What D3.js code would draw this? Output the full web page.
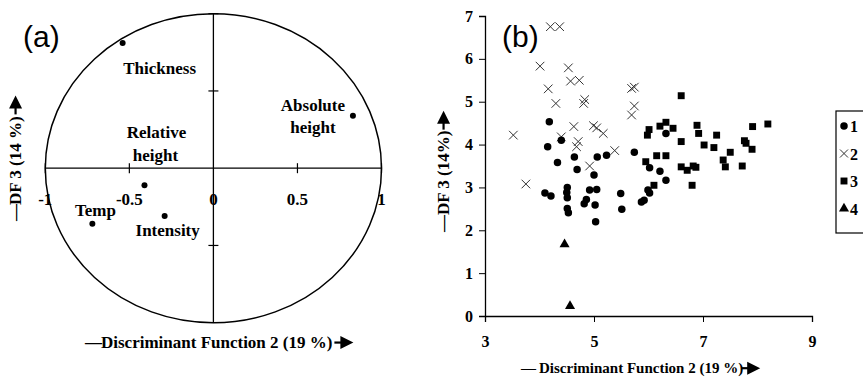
<!DOCTYPE html>
<html>
<head>
<meta charset="utf-8">
<script src="https://cdn.jsdelivr.net/npm/d3@7"></script>
<style>
  body { margin: 0; background: #fff; }
  svg { display: block; }
</style>
</head>
<body>
<script>
const WIDTH = 863
const HEIGHT = 381

// Panel (a): structure coefficients
const varNames = ["Thickness", "Absolute height", "Relative height", "Intensity", "Temp"]
const varDF2 = [-0.54, 0.83, -0.41, -0.29, -0.72]
const varDF3 = [0.81, 0.34, -0.11, -0.31, -0.36]
const circleTicks = [-1, -0.5, 0, 0.5, 1]

// Panel (b): group scores (DF2, DF3)
const g1x = [4.18, 4.40, 4.15, 4.33, 4.64, 4.69, 5.06, 5.23, 5.00, 4.10, 4.21, 4.51, 4.50, 4.51, 4.51, 4.53, 4.92, 5.05, 4.86, 4.82, 5.02, 5.03, 5.49, 5.51, 5.87, 5.92, 6.02, 5.99, 6.02, 6.21, 6.32, 6.32, 5.74]
const g1y = [4.53, 4.10, 3.95, 3.58, 3.71, 3.42, 3.71, 3.75, 3.29, 2.87, 2.80, 3.00, 2.88, 2.76, 2.51, 2.41, 2.94, 2.95, 2.72, 2.62, 2.59, 2.20, 2.86, 2.49, 2.66, 2.70, 2.87, 2.94, 3.46, 3.38, 3.17, 4.26, 3.82]
const g2x = [4.20, 4.37, 4.01, 4.53, 4.57, 4.73, 4.16, 4.30, 4.83, 4.81, 5.69, 5.74, 5.74, 5.69, 3.52, 4.63, 4.99, 5.05, 5.17, 4.40, 4.71, 4.68, 5.38, 4.92, 3.75]
const g2y = [6.75, 6.75, 5.83, 5.79, 5.48, 5.50, 5.30, 4.96, 5.05, 4.96, 5.31, 5.34, 4.90, 4.69, 4.22, 4.42, 4.44, 4.39, 4.26, 4.18, 4.07, 3.95, 3.86, 3.50, 3.08]
const g3x = [6.60, 6.01, 5.98, 6.21, 6.32, 6.45, 6.89, 6.92, 7.25, 7.91, 8.19, 6.60, 7.02, 7.20, 7.50, 7.76, 7.79, 7.90, 5.95, 6.15, 6.32, 6.60, 6.71, 6.82, 6.87, 7.37, 7.41, 7.72, 6.80, 6.10]
const g3y = [5.14, 4.35, 4.22, 4.43, 4.52, 4.38, 4.45, 4.26, 4.22, 4.42, 4.48, 4.07, 3.99, 3.93, 3.82, 4.09, 4.03, 3.89, 3.60, 3.74, 3.74, 3.48, 3.40, 3.50, 3.47, 3.64, 3.48, 3.50, 3.05, 3.05]
const g4x = [4.46, 4.56]
const g4y = [1.67, 0.23]
const groupNames = ["1", "2", "3", "4"]
const xTicksB = [3, 5, 7, 9]
const yTicksB = [0, 1, 2, 3, 4, 5, 6, 7]

const SERIF = "'Liberation Serif', 'Times New Roman', serif"
const SANS = "'Liberation Sans', Arial, sans-serif"

const svg = d3.select("body").append("svg")
  .attr("width", WIDTH)
  .attr("height", HEIGHT)
  .attr("viewBox", [0, 0, WIDTH, HEIGHT])
  .attr("font-family", SERIF)
  .attr("font-weight", "bold")

// label like "—Text ➜" with a drawn arrow at the end
const arrowLabel = (g, text, size, gap) => {
  const t = g.append("text")
    .attr("font-size", size)
  t.append("tspan").text("\u2014")
  t.append("tspan").attr("dx", gap).text(text)
  const len = t.node().getComputedTextLength()
  const a = len + 1
  const my = -size * 0.32
  g.append("line")
    .attr("x1", a).attr("x2", a + 8)
    .attr("y1", my).attr("y2", my)
    .attr("stroke", "#000").attr("stroke-width", 2.2)
  g.append("path")
    .attr("d", `M${a + 6},${my - 6.5}L${a + 19},${my}L${a + 6},${my + 6.5}Z`)
    .attr("fill", "#000")
}

// ---------- Panel (a) ----------
const xA = d3.scaleLinear([-1, 1], [45.3, 381.5])
const yA = d3.scaleLinear([-1, 1], [322.7, 13.7])

const pa = svg.append("g")

pa.append("ellipse")
  .attr("cx", xA(0)).attr("cy", yA(0))
  .attr("rx", xA(1) - xA(0)).attr("ry", yA(0) - yA(1))
  .attr("fill", "none").attr("stroke", "#000").attr("stroke-width", 1.5)

pa.append("line")
  .attr("x1", xA(-1)).attr("x2", xA(1)).attr("y1", yA(0)).attr("y2", yA(0))
  .attr("stroke", "#000").attr("stroke-width", 1.3)
pa.append("line")
  .attr("x1", xA(0)).attr("x2", xA(0)).attr("y1", yA(1)).attr("y2", yA(-1))
  .attr("stroke", "#000").attr("stroke-width", 1.3)

// ticks on horizontal axis
pa.append("g").selectAll("line")
  .data(circleTicks.filter(d => d !== 0))
  .join("line")
    .attr("x1", d => xA(d)).attr("x2", d => xA(d))
    .attr("y1", yA(0) - 5).attr("y2", yA(0) + 5)
    .attr("stroke", "#000").attr("stroke-width", 1.2)

// ticks on vertical axis
pa.append("g").selectAll("line")
  .data([1, 0.5, -0.5])
  .join("line")
    .attr("x1", xA(0) - 5).attr("x2", xA(0) + 5)
    .attr("y1", d => yA(d)).attr("y2", d => yA(d))
    .attr("stroke", "#000").attr("stroke-width", 1.2)

pa.append("g")
  .attr("font-size", 17)
  .attr("text-anchor", "middle")
  .selectAll("text")
  .data(circleTicks)
  .join("text")
    .attr("x", d => xA(d))
    .attr("y", yA(0) + 37)
    .text(d => d)

pa.append("g").selectAll("circle")
  .data(varNames)
  .join("circle")
    .attr("cx", (d, i) => xA(varDF2[i]))
    .attr("cy", (d, i) => yA(varDF3[i]))
    .attr("r", 3)
    .attr("fill", "#000")

// label placement relative to each point (px)
const labelOffsets = {
  "Thickness": [[37, 31]],
  "Absolute height": [[-40, -5], [-40, 17]],
  "Relative height": [[12, -47], [11, -24]],
  "Intensity": [[3, 20]],
  "Temp": [[3, -8]]
}
const labelLines = {
  "Thickness": ["Thickness"],
  "Absolute height": ["Absolute", "height"],
  "Relative height": ["Relative", "height"],
  "Intensity": ["Intensity"],
  "Temp": ["Temp"]
}
varNames.forEach((name, i) => {
  labelLines[name].forEach((line, j) => {
    const [dx, dy] = labelOffsets[name][j]
    pa.append("text")
      .attr("x", xA(varDF2[i]) + dx)
      .attr("y", yA(varDF3[i]) + dy)
      .attr("font-size", 17)
      .attr("text-anchor", "middle")
      .text(line)
  })
})

pa.append("text")
  .attr("x", 23).attr("y", 47)
  .attr("font-family", SANS).attr("font-weight", "normal")
  .attr("font-size", 30)
  .text("(a)")

arrowLabel(pa.append("g").attr("transform", "translate(85,348)"),
  "Discriminant Function 2 (19 %)", 17, -1)
arrowLabel(pa.append("g").attr("transform", "translate(21,221) rotate(-90)"),
  "DF 3 (14 %)", 17, -1)

// ---------- Panel (b) ----------
const xB = d3.scaleLinear([3, 9], [485, 812])
const yB = d3.scaleLinear([0, 7], [316, 16])

const pb = svg.append("g")

pb.append("g")
  .attr("transform", `translate(0,${yB(0)})`)
  .call(d3.axisBottom(xB).tickValues(xTicksB).tickSize(6).tickPadding(14).tickFormat(d3.format("d")))
  .call(g => g.attr("font-family", SERIF).attr("font-size", 16).attr("font-weight", "bold"))
  .call(g => g.select(".domain").attr("stroke-width", 1.3))

pb.append("g")
  .attr("transform", `translate(${xB(3)},0)`)
  .call(d3.axisLeft(yB).tickValues(yTicksB).tickSize(6).tickPadding(6).tickFormat(d3.format("d")))
  .call(g => g.attr("font-family", SERIF).attr("font-size", 16).attr("font-weight", "bold"))
  .call(g => g.select(".domain").attr("stroke-width", 1.3))

const symCircle = d3.symbol(d3.symbolCircle, 44)
const symSquare = d3.symbol(d3.symbolSquare, 48)
const symTri = d3.symbol(d3.symbolTriangle, 44)
const crossPath = s => `M${-s},${-s}L${s},${s}M${-s},${s}L${s},${-s}`

pb.append("g").selectAll("path")
  .data(g2x)
  .join("path")
    .attr("transform", (d, i) => `translate(${xB(d)},${yB(g2y[i])})`)
    .attr("d", crossPath(4.3))
    .attr("fill", "none").attr("stroke", "#333").attr("stroke-width", 1)

pb.append("g").selectAll("path")
  .data(g3x)
  .join("path")
    .attr("transform", (d, i) => `translate(${xB(d)},${yB(g3y[i])})`)
    .attr("d", symSquare)
    .attr("fill", "#000")

pb.append("g").selectAll("path")
  .data(g1x)
  .join("path")
    .attr("transform", (d, i) => `translate(${xB(d)},${yB(g1y[i])})`)
    .attr("d", symCircle)
    .attr("fill", "#000")

pb.append("g").selectAll("path")
  .data(g4x)
  .join("path")
    .attr("transform", (d, i) => `translate(${xB(d)},${yB(g4y[i])})`)
    .attr("d", symTri)
    .attr("fill", "#000")

pb.append("text")
  .attr("x", 502).attr("y", 47)
  .attr("font-family", SANS).attr("font-weight", "normal")
  .attr("font-size", 30)
  .text("(b)")

arrowLabel(pb.append("g").attr("transform", "translate(521,373)"),
  "Discriminant Function 2 (19 %)", 15, 3)
arrowLabel(pb.append("g").attr("transform", "translate(449,232) rotate(-90)"),
  "DF 3 (14%)", 17, 0)

// legend
const legend = pb.append("g").attr("transform", "translate(836,111)")
legend.append("rect")
  .attr("width", 60).attr("height", 122)
  .attr("fill", "none").attr("stroke", "#000").attr("stroke-width", 1.2)
const legendSym = [
  g => g.append("path").attr("d", symCircle).attr("fill", "#000"),
  g => g.append("path").attr("d", crossPath(4)).attr("fill", "none").attr("stroke", "#333"),
  g => g.append("path").attr("d", symSquare).attr("fill", "#000"),
  g => g.append("path").attr("d", symTri).attr("fill", "#000")
]
groupNames.forEach((name, i) => {
  const row = legend.append("g").attr("transform", `translate(8,${15 + i * 27.5})`)
  legendSym[i](row)
  row.append("text")
    .attr("x", 6).attr("y", 6)
    .attr("font-size", 16)
    .text(name)
})
</script>
</body>
</html>
